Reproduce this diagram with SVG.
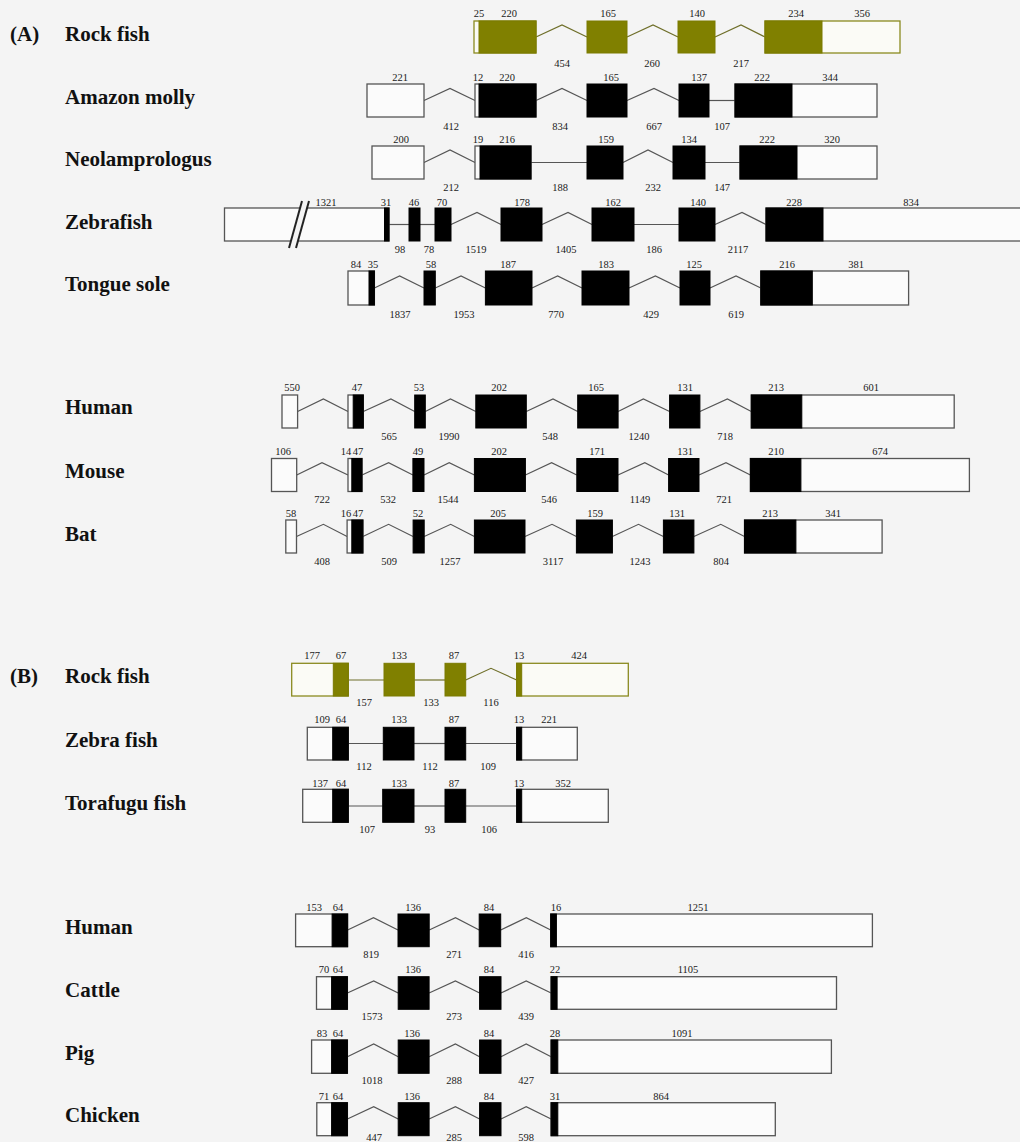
<svg xmlns="http://www.w3.org/2000/svg" width="1020" height="1142" viewBox="0 0 1020 1142">
<style>
.lbl{font-family:"Liberation Serif","Times New Roman",serif;font-weight:bold;font-size:21px;fill:#111}
.n{font-family:"Liberation Serif","Times New Roman",serif;font-size:10.5px;fill:#1a1a1a;text-anchor:middle}
.u{fill:#fbfbfb;stroke:#555;stroke-width:1.3}
.e{fill:#000;stroke:#000;stroke-width:1}
.ou{fill:#fbfbf6;stroke:#8a8a20;stroke-width:1.3}
.oe{fill:#808000;stroke:#7a7a00;stroke-width:1}
.i{fill:none;stroke:#555;stroke-width:1.2}
.oi{fill:none;stroke:#6f6f2a;stroke-width:1.2}
</style>
<rect x="0" y="0" width="1020" height="1142" fill="#f4f4f4"/>

<g id="connectors">
<polyline class="oi" points="536,37 562,25 587,37"/>
<polyline class="oi" points="627,37 653,25 678,37"/>
<polyline class="oi" points="715,37 741,25 765,37"/>
<polyline class="i" points="424,100.5 450,88.5 475,100.5"/>
<polyline class="i" points="536,100.5 562,88.5 587,100.5"/>
<polyline class="i" points="627,100.5 654,88.5 679,100.5"/>
<line class="i" x1="709" y1="100.5" x2="735" y2="100.5"/>
<polyline class="i" points="424,162.5 450,150 475,162.5"/>
<line class="i" x1="531" y1="162.5" x2="587" y2="162.5"/>
<polyline class="i" points="623,162.5 648,150 673,162.5"/>
<line class="i" x1="705" y1="162.5" x2="740" y2="162.5"/>
<line class="i" x1="389" y1="224.5" x2="409" y2="224.5"/>
<line class="i" x1="420" y1="224.5" x2="435" y2="224.5"/>
<polyline class="i" points="451,224.5 477,212.5 501,224.5"/>
<polyline class="i" points="542,224.5 568,212.5 592,224.5"/>
<line class="i" x1="634" y1="224.5" x2="679" y2="224.5"/>
<polyline class="i" points="715,224.5 742,212.5 766,224.5"/>
<polyline class="i" points="374.4,288 399.6,276 424,288"/>
<polyline class="i" points="435.3,288 461,276 485.4,288"/>
<polyline class="i" points="532,288 557.6,276 582,288"/>
<polyline class="i" points="629,288 655.4,276 680,288"/>
<polyline class="i" points="710,288 736,276 760.8,288"/>
<polyline class="i" points="297.6,411.5 323.4,399 348,411.5"/>
<polyline class="i" points="363.3,411.5 390.9,399 414.7,411.5"/>
<polyline class="i" points="425.3,411.5 450.5,399 475.8,411.5"/>
<polyline class="i" points="526.3,411.5 553,399 577.7,411.5"/>
<polyline class="i" points="618.1,411.5 643.4,399 669.6,411.5"/>
<polyline class="i" points="699.9,411.5 727.4,399 751.3,411.5"/>
<polyline class="i" points="296.7,475 322,462.7 348,475"/>
<polyline class="i" points="362,475 388.6,462.7 412.9,475"/>
<polyline class="i" points="424,475 449.2,462.7 474.4,475"/>
<polyline class="i" points="525.4,475 551.6,462.7 576.8,475"/>
<polyline class="i" points="618,475 644.8,462.7 668.6,475"/>
<polyline class="i" points="699,475 726,462.7 750.4,475"/>
<polyline class="i" points="296.5,536.5 323.4,524.3 347.1,536.5"/>
<polyline class="i" points="362.9,536.5 388.6,524.3 413.1,536.5"/>
<polyline class="i" points="424.2,536.5 450.7,524.3 474.4,536.5"/>
<polyline class="i" points="525,536.5 552,524.3 576.4,536.5"/>
<polyline class="i" points="612.4,536.5 638.5,524.3 663.4,536.5"/>
<polyline class="i" points="693.9,536.5 720.8,524.3 744.5,536.5"/>
<line class="oi" x1="348.3" y1="680" x2="384" y2="680"/>
<line class="oi" x1="414.3" y1="680" x2="445" y2="680"/>
<polyline class="oi" points="465.7,680 491,668.3 516.7,680"/>
<line class="i" x1="348.3" y1="743.5" x2="383.3" y2="743.5"/>
<line class="i" x1="414" y1="743.5" x2="445" y2="743.5"/>
<line class="i" x1="465.7" y1="743.5" x2="516.7" y2="743.5"/>
<line class="i" x1="348.3" y1="806" x2="382.7" y2="806"/>
<line class="i" x1="414" y1="806" x2="445" y2="806"/>
<line class="i" x1="465.7" y1="806" x2="516.7" y2="806"/>
<polyline class="i" points="347.6,930 373.5,917.7 398,930"/>
<polyline class="i" points="429.2,930 455.5,917.7 479.2,930"/>
<polyline class="i" points="500.7,930 526.3,917.7 550.7,930"/>
<polyline class="i" points="347.4,993 373.7,981 398.2,993"/>
<polyline class="i" points="429.1,993 455.4,981 479.6,993"/>
<polyline class="i" points="501,993 526.2,981 551.1,993"/>
<polyline class="i" points="347.4,1056.7 373.7,1044 398.2,1056.7"/>
<polyline class="i" points="429.1,1056.7 455.4,1044 479.6,1056.7"/>
<polyline class="i" points="501,1056.7 526.2,1044 551.1,1056.7"/>
<polyline class="i" points="347.4,1119 373.7,1106.7 398.2,1119"/>
<polyline class="i" points="429.1,1119 455.4,1106.7 479.6,1119"/>
<polyline class="i" points="501,1119 526.2,1106.7 551.1,1119"/>
</g>

<text class="lbl" x="10" y="41">(A)</text>
<text class="lbl" x="10" y="683">(B)</text>

<g id="a-rockfish">
<text class="lbl" x="65" y="41">Rock fish</text>
<rect class="ou" x="474" y="21" width="62" height="32"/>
<rect class="oe" x="479" y="21" width="57" height="32"/>
<rect class="oe" x="587" y="21" width="40" height="32"/>
<rect class="oe" x="678" y="21" width="37" height="32"/>
<rect class="ou" x="765" y="21" width="135" height="32"/>
<rect class="oe" x="765" y="21" width="57" height="32"/>
<text class="n" x="479" y="17">25</text><text class="n" x="509" y="17">220</text><text class="n" x="608" y="17">165</text><text class="n" x="697" y="17">140</text><text class="n" x="796" y="17">234</text><text class="n" x="862" y="17">356</text>
<text class="n" x="562" y="67">454</text><text class="n" x="652" y="67">260</text><text class="n" x="741" y="67">217</text>
</g>

<g id="a-amazon-molly">
<text class="lbl" x="65" y="104">Amazon molly</text>
<rect class="u" x="367" y="84" width="57" height="33"/>
<rect class="u" x="475" y="84" width="61" height="33"/>
<rect class="e" x="479" y="84" width="57" height="33"/>
<rect class="e" x="587" y="84" width="40" height="33"/>
<rect class="e" x="679" y="84" width="30" height="33"/>
<rect class="u" x="735" y="84" width="142" height="33"/>
<rect class="e" x="735" y="84" width="57" height="33"/>
<text class="n" x="400" y="81">221</text><text class="n" x="478" y="81">12</text><text class="n" x="507" y="81">220</text><text class="n" x="611" y="81">165</text><text class="n" x="699" y="81">137</text><text class="n" x="762" y="81">222</text><text class="n" x="830" y="81">344</text>
<text class="n" x="451" y="130">412</text><text class="n" x="560" y="130">834</text><text class="n" x="654" y="130">667</text><text class="n" x="722" y="130">107</text>
</g>

<g id="a-neolamprologus">
<text class="lbl" x="65" y="166">Neolamprologus</text>
<rect class="u" x="372" y="146" width="52" height="33"/>
<rect class="u" x="475" y="146" width="56" height="33"/>
<rect class="e" x="480" y="146" width="51" height="33"/>
<rect class="e" x="587" y="146" width="36" height="33"/>
<rect class="e" x="673" y="146" width="32" height="33"/>
<rect class="u" x="740" y="146" width="137" height="33"/>
<rect class="e" x="740" y="146" width="57" height="33"/>
<text class="n" x="401" y="143">200</text><text class="n" x="478" y="143">19</text><text class="n" x="507" y="143">216</text><text class="n" x="606" y="143">159</text><text class="n" x="689" y="143">134</text><text class="n" x="767" y="143">222</text><text class="n" x="832" y="143">320</text>
<text class="n" x="451" y="191">212</text><text class="n" x="560" y="191">188</text><text class="n" x="653" y="191">232</text><text class="n" x="722" y="191">147</text>
</g>

<g id="a-zebrafish">
<text class="lbl" x="65" y="229">Zebrafish</text>
<rect class="u" x="224.5" y="208" width="164.5" height="33"/>
<polygon points="289,249 296,249 309,200 302,200" fill="#f4f4f4"/>
<line x1="289" y1="248" x2="302" y2="201" stroke="#222" stroke-width="2"/>
<line x1="296" y1="248" x2="309" y2="201" stroke="#222" stroke-width="2"/>
<rect class="e" x="384.5" y="208" width="4.5" height="33"/>
<rect class="e" x="409" y="208" width="11" height="33"/>
<rect class="e" x="435" y="208" width="16" height="33"/>
<rect class="e" x="501" y="208" width="41" height="33"/>
<rect class="e" x="592" y="208" width="42" height="33"/>
<rect class="e" x="679" y="208" width="36" height="33"/>
<rect class="u" x="766" y="208" width="260" height="33"/>
<rect class="e" x="766" y="208" width="57" height="33"/>
<text class="n" x="326" y="206">1321</text><text class="n" x="386" y="206">31</text><text class="n" x="414" y="206">46</text><text class="n" x="442" y="206">70</text><text class="n" x="522" y="206">178</text><text class="n" x="613" y="206">162</text><text class="n" x="698" y="206">140</text><text class="n" x="794" y="206">228</text><text class="n" x="911" y="206">834</text>
<text class="n" x="400" y="253">98</text><text class="n" x="429" y="253">78</text><text class="n" x="476" y="253">1519</text><text class="n" x="566" y="253">1405</text><text class="n" x="654" y="253">186</text><text class="n" x="738" y="253">2117</text>
</g>

<g id="a-tongue-sole">
<text class="lbl" x="65" y="291">Tongue sole</text>
<rect class="u" x="348" y="271" width="26.4" height="34"/>
<rect class="e" x="369" y="271" width="5.4" height="34"/>
<rect class="e" x="424" y="271" width="11.3" height="34"/>
<rect class="e" x="485.4" y="271" width="46.6" height="34"/>
<rect class="e" x="582" y="271" width="47" height="34"/>
<rect class="e" x="680" y="271" width="30" height="34"/>
<rect class="u" x="760.8" y="271" width="147.8" height="34"/>
<rect class="e" x="760.8" y="271" width="51.5" height="34"/>
<text class="n" x="356" y="268">84</text><text class="n" x="373" y="268">35</text><text class="n" x="431" y="268">58</text><text class="n" x="508" y="268">187</text><text class="n" x="606" y="268">183</text><text class="n" x="694" y="268">125</text><text class="n" x="787" y="268">216</text><text class="n" x="856" y="268">381</text>
<text class="n" x="400" y="318">1837</text><text class="n" x="464" y="318">1953</text><text class="n" x="556" y="318">770</text><text class="n" x="651" y="318">429</text><text class="n" x="736" y="318">619</text>
</g>

<g id="a-human">
<text class="lbl" x="65" y="414">Human</text>
<rect class="u" x="282" y="395" width="15.6" height="33"/>
<rect class="u" x="348" y="395" width="15.3" height="33"/>
<rect class="e" x="353.2" y="395" width="10.1" height="33"/>
<rect class="e" x="414.7" y="395" width="10.6" height="33"/>
<rect class="e" x="475.8" y="395" width="50.5" height="33"/>
<rect class="e" x="577.7" y="395" width="40.4" height="33"/>
<rect class="e" x="669.6" y="395" width="30.3" height="33"/>
<rect class="u" x="751.3" y="395" width="202.9" height="33"/>
<rect class="e" x="751.3" y="395" width="50.5" height="33"/>
<text class="n" x="292" y="391">550</text><text class="n" x="357" y="391">47</text><text class="n" x="419" y="391">53</text><text class="n" x="499" y="391">202</text><text class="n" x="596" y="391">165</text><text class="n" x="685" y="391">131</text><text class="n" x="776" y="391">213</text><text class="n" x="871" y="391">601</text>
<text class="n" x="389" y="440">565</text><text class="n" x="449" y="440">1990</text><text class="n" x="550" y="440">548</text><text class="n" x="639" y="440">1240</text><text class="n" x="725" y="440">718</text>
</g>

<g id="a-mouse">
<text class="lbl" x="65" y="478">Mouse</text>
<rect class="u" x="271.5" y="458.5" width="25.2" height="33"/>
<rect class="u" x="348" y="458.5" width="14" height="33"/>
<rect class="e" x="351.8" y="458.5" width="10.2" height="33"/>
<rect class="e" x="412.9" y="458.5" width="11.1" height="33"/>
<rect class="e" x="474.4" y="458.5" width="51" height="33"/>
<rect class="e" x="576.8" y="458.5" width="41.2" height="33"/>
<rect class="e" x="668.6" y="458.5" width="30.4" height="33"/>
<rect class="u" x="750.4" y="458.5" width="219" height="33"/>
<rect class="e" x="750.4" y="458.5" width="50.5" height="33"/>
<text class="n" x="283" y="455">106</text><text class="n" x="346" y="455">14</text><text class="n" x="358" y="455">47</text><text class="n" x="418" y="455">49</text><text class="n" x="499" y="455">202</text><text class="n" x="597" y="455">171</text><text class="n" x="685" y="455">131</text><text class="n" x="776" y="455">210</text><text class="n" x="880" y="455">674</text>
<text class="n" x="322" y="503">722</text><text class="n" x="388" y="503">532</text><text class="n" x="448" y="503">1544</text><text class="n" x="549" y="503">546</text><text class="n" x="640" y="503">1149</text><text class="n" x="724" y="503">721</text>
</g>

<g id="a-bat">
<text class="lbl" x="65" y="541">Bat</text>
<rect class="u" x="285.8" y="520" width="10.7" height="33"/>
<rect class="u" x="347.1" y="520" width="15.8" height="33"/>
<rect class="e" x="351.8" y="520" width="11.1" height="33"/>
<rect class="e" x="413.1" y="520" width="11.1" height="33"/>
<rect class="e" x="474.4" y="520" width="50.6" height="33"/>
<rect class="e" x="576.4" y="520" width="36" height="33"/>
<rect class="e" x="663.4" y="520" width="30.5" height="33"/>
<rect class="u" x="744.5" y="520" width="137.6" height="33"/>
<rect class="e" x="744.5" y="520" width="51.4" height="33"/>
<text class="n" x="291" y="517">58</text><text class="n" x="346" y="517">16</text><text class="n" x="358" y="517">47</text><text class="n" x="418" y="517">52</text><text class="n" x="498" y="517">205</text><text class="n" x="595" y="517">159</text><text class="n" x="677" y="517">131</text><text class="n" x="770" y="517">213</text><text class="n" x="833" y="517">341</text>
<text class="n" x="322" y="565">408</text><text class="n" x="389" y="565">509</text><text class="n" x="450" y="565">1257</text><text class="n" x="553" y="565">3117</text><text class="n" x="640" y="565">1243</text><text class="n" x="721" y="565">804</text>
</g>

<g id="b-rockfish">
<text class="lbl" x="65" y="683">Rock fish</text>
<rect class="ou" x="291.7" y="663.3" width="56.6" height="32.7"/>
<rect class="oe" x="333.3" y="663.3" width="15" height="32.7"/>
<rect class="oe" x="384" y="663.3" width="30.3" height="32.7"/>
<rect class="oe" x="445" y="663.3" width="20.7" height="32.7"/>
<rect class="ou" x="516.7" y="663.3" width="111.6" height="32.7"/>
<rect class="oe" x="516.7" y="663.3" width="5" height="32.7"/>
<text class="n" x="312" y="659">177</text><text class="n" x="341" y="659">67</text><text class="n" x="399" y="659">133</text><text class="n" x="454" y="659">87</text><text class="n" x="519" y="659">13</text><text class="n" x="579" y="659">424</text>
<text class="n" x="364" y="706">157</text><text class="n" x="431" y="706">133</text><text class="n" x="491" y="706">116</text>
</g>

<g id="b-zebrafish">
<text class="lbl" x="65" y="747">Zebra fish</text>
<rect class="u" x="307.3" y="727.3" width="41" height="32.7"/>
<rect class="e" x="332.7" y="727.3" width="15.6" height="32.7"/>
<rect class="e" x="383.3" y="727.3" width="30.7" height="32.7"/>
<rect class="e" x="445" y="727.3" width="20.7" height="32.7"/>
<rect class="u" x="516.7" y="727.3" width="60.6" height="32.7"/>
<rect class="e" x="516.7" y="727.3" width="5" height="32.7"/>
<text class="n" x="322" y="723">109</text><text class="n" x="341" y="723">64</text><text class="n" x="399" y="723">133</text><text class="n" x="454" y="723">87</text><text class="n" x="519" y="723">13</text><text class="n" x="549" y="723">221</text>
<text class="n" x="364" y="770">112</text><text class="n" x="430" y="770">112</text><text class="n" x="488" y="770">109</text>
</g>

<g id="b-torafugu">
<text class="lbl" x="65" y="810">Torafugu fish</text>
<rect class="u" x="302.7" y="789.3" width="45.6" height="33"/>
<rect class="e" x="332.7" y="789.3" width="15.6" height="33"/>
<rect class="e" x="382.7" y="789.3" width="31.3" height="33"/>
<rect class="e" x="445" y="789.3" width="20.7" height="33"/>
<rect class="u" x="516.7" y="789.3" width="91.6" height="33"/>
<rect class="e" x="516.7" y="789.3" width="5" height="33"/>
<text class="n" x="320" y="786.7">137</text><text class="n" x="341" y="786.7">64</text><text class="n" x="399" y="786.7">133</text><text class="n" x="454" y="786.7">87</text><text class="n" x="519" y="786.7">13</text><text class="n" x="563" y="786.7">352</text>
<text class="n" x="367" y="833">107</text><text class="n" x="430" y="833">93</text><text class="n" x="489" y="833">106</text>
</g>

<g id="b-human">
<text class="lbl" x="65" y="934">Human</text>
<rect class="u" x="295.6" y="914" width="52" height="32.7"/>
<rect class="e" x="332.1" y="914" width="15.5" height="32.7"/>
<rect class="e" x="398" y="914" width="31.2" height="32.7"/>
<rect class="e" x="479.2" y="914" width="21.5" height="32.7"/>
<rect class="u" x="550.7" y="914" width="321.7" height="32.7"/>
<rect class="e" x="550.7" y="914" width="5.7" height="32.7"/>
<text class="n" x="314" y="911">153</text><text class="n" x="338" y="911">64</text><text class="n" x="413" y="911">136</text><text class="n" x="489" y="911">84</text><text class="n" x="556" y="911">16</text><text class="n" x="698" y="911">1251</text>
<text class="n" x="371" y="958">819</text><text class="n" x="454" y="958">271</text><text class="n" x="526" y="958">416</text>
</g>

<g id="b-cattle">
<text class="lbl" x="65" y="997">Cattle</text>
<rect class="u" x="316.5" y="976.7" width="30.9" height="32.6"/>
<rect class="e" x="331.6" y="976.7" width="15.8" height="32.6"/>
<rect class="e" x="398.2" y="976.7" width="30.9" height="32.6"/>
<rect class="e" x="479.6" y="976.7" width="21.4" height="32.6"/>
<rect class="u" x="551.1" y="976.7" width="285.4" height="32.6"/>
<rect class="e" x="551.1" y="976.7" width="6" height="32.6"/>
<text class="n" x="324" y="973">70</text><text class="n" x="338" y="973">64</text><text class="n" x="413" y="973">136</text><text class="n" x="489" y="973">84</text><text class="n" x="555" y="973">22</text><text class="n" x="688" y="973">1105</text>
<text class="n" x="372" y="1020">1573</text><text class="n" x="454" y="1020">273</text><text class="n" x="526" y="1020">439</text>
</g>

<g id="b-pig">
<text class="lbl" x="65" y="1060">Pig</text>
<rect class="u" x="311.6" y="1040" width="35.8" height="33.3"/>
<rect class="e" x="331.6" y="1040" width="15.8" height="33.3"/>
<rect class="e" x="398.2" y="1040" width="30.9" height="33.3"/>
<rect class="e" x="479.6" y="1040" width="21.4" height="33.3"/>
<rect class="u" x="551.1" y="1040" width="280.3" height="33.3"/>
<rect class="e" x="551.1" y="1040" width="6.7" height="33.3"/>
<text class="n" x="322" y="1037">83</text><text class="n" x="338" y="1037">64</text><text class="n" x="412" y="1037">136</text><text class="n" x="489" y="1037">84</text><text class="n" x="555" y="1037">28</text><text class="n" x="682" y="1037">1091</text>
<text class="n" x="372" y="1084">1018</text><text class="n" x="454" y="1084">288</text><text class="n" x="526" y="1084">427</text>
</g>

<g id="b-chicken">
<text class="lbl" x="65" y="1122">Chicken</text>
<rect class="u" x="316.8" y="1102.7" width="30.6" height="33"/>
<rect class="e" x="331.6" y="1102.7" width="15.8" height="33"/>
<rect class="e" x="398.2" y="1102.7" width="30.9" height="33"/>
<rect class="e" x="479.6" y="1102.7" width="21.4" height="33"/>
<rect class="u" x="551.1" y="1102.7" width="224.2" height="33"/>
<rect class="e" x="551.1" y="1102.7" width="6.7" height="33"/>
<text class="n" x="324" y="1100">71</text><text class="n" x="338" y="1100">64</text><text class="n" x="412" y="1100">136</text><text class="n" x="489" y="1100">84</text><text class="n" x="555" y="1100">31</text><text class="n" x="661" y="1100">864</text>
<text class="n" x="374" y="1141">447</text><text class="n" x="454" y="1141">285</text><text class="n" x="526" y="1141">598</text>
</g>
</svg>
